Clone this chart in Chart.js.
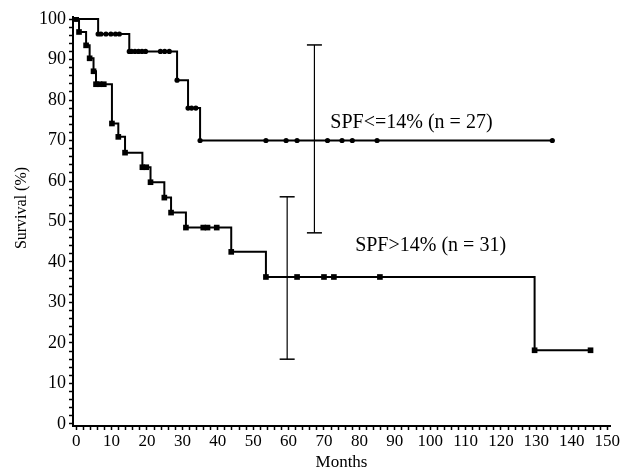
<!DOCTYPE html>
<html>
<head>
<meta charset="utf-8">
<script src="https://cdn.jsdelivr.net/npm/chart.js@4.4.0/dist/chart.umd.min.js"></script>
<style>
  html, body { margin: 0; padding: 0; background: #fff; }
  #wrap { width: 623px; height: 473px; }
</style>
</head>
<body>
<div id="wrap"><canvas id="myChart"></canvas></div>
<script>
// Kaplan-Meier curves (months, survival %)
const lowMonths = [0, 0.8, 2.8, 3.8, 4.9, 5.6, 6.6, 7.8, 10.1, 11.9, 13.8, 18.7, 19.8, 21.0, 24.9, 26.8, 31.0, 35.9, 37.1, 39.7, 43.8, 53.6, 62.4, 70.0, 72.8, 85.8, 129.5, 145.3];
const lowSurv = [100, 96.8, 93.5, 90.3, 87.1, 83.9, 83.9, 83.9, 74.2, 70.9, 67.0, 63.4, 63.4, 59.7, 55.9, 52.2, 48.5, 48.5, 48.5, 48.5, 42.5, 36.3, 36.3, 36.3, 36.3, 36.3, 18.2, 18.2];

const highMonths = [0, 6.2, 7.0, 8.4, 9.8, 11.1, 12.2, 15.0, 15.6, 16.6, 17.6, 18.6, 19.6, 23.8, 25.0, 26.3, 28.5, 31.6, 32.6, 33.8, 35.0, 53.6, 59.3, 62.4, 71.0, 75.1, 78.0, 85.0, 134.5];
const highSurv = [100, 96.3, 96.3, 96.3, 96.3, 96.3, 96.3, 92.0, 92.0, 92.0, 92.0, 92.0, 92.0, 92.0, 92.0, 92.0, 84.9, 78.0, 78.0, 78.0, 70.0, 70.0, 70.0, 70.0, 70.0, 70.0, 70.0, 70.0, 70.0];

// confidence bars: [month, low, high]
const barHigh = [67.3, 47.2, 93.6];
const barLow = [59.6, 16.0, 56.1];

const labelHigh = 'SPF<=14% (n = 27)';
const labelLow = 'SPF>14% (n = 31)';

const xTickLabels = [0, 10, 20, 30, 40, 50, 60, 70, 80, 90, 100, 110, 120, 130, 140, 150];
const yTickLabels = [0, 10, 20, 30, 40, 50, 60, 70, 80, 90, 100];

function pts(xs, ys) {
    return xs.map(function (x, i) { return {x: x, y: ys[i]}; });
}

const font = 'Liberation Serif';

// curve labels and the y axis title
const textPlugin = {
    id: 'curveText',
    afterDatasetsDraw(chart) {
        const c = chart.ctx, xs = chart.scales.x, ys = chart.scales.y;
        c.save();
        c.fillStyle = '#000';
        c.font = '20px "' + font + '"';
        c.textBaseline = 'middle';
        c.fillText(labelHigh, xs.getPixelForValue(71.8), ys.getPixelForValue(74.3));
        c.fillText(labelLow, xs.getPixelForValue(78.8), ys.getPixelForValue(44.0));

        c.translate(22, 208);
        c.rotate(-Math.PI / 2);
        c.textAlign = 'center';
        c.font = '16px "' + font + '"';
        c.fillText('Survival (%)', 0, 0);
        c.restore();
    }
};

const ctx = document.getElementById('myChart');
new Chart(ctx, {
    type: 'scatter',
    data: {
        datasets: [
            {
                data: pts(highMonths, highSurv),
                showLine: true,
                stepped: 'before',
                borderColor: '#000',
                borderWidth: 2,
                pointStyle: 'circle',
                pointRadius: 2.6,
                pointBackgroundColor: '#000',
                pointBorderColor: '#000',
                pointBorderWidth: 0
            },
            {
                data: pts(lowMonths, lowSurv),
                showLine: true,
                stepped: 'before',
                borderColor: '#000',
                borderWidth: 2,
                pointStyle: 'rect',
                pointRadius: 4,
                pointBackgroundColor: '#000',
                pointBorderColor: '#000',
                pointBorderWidth: 0
            },
            {
                data: [{x: barHigh[0], y: barHigh[1]}, {x: barHigh[0], y: barHigh[2]}],
                showLine: true,
                borderColor: '#000',
                borderWidth: 1.2,
                pointStyle: 'line',
                pointRadius: 7.5,
                pointBorderColor: '#000',
                pointBorderWidth: 1.5
            },
            {
                data: [{x: barLow[0], y: barLow[1]}, {x: barLow[0], y: barLow[2]}],
                showLine: true,
                borderColor: '#000',
                borderWidth: 1.2,
                pointStyle: 'line',
                pointRadius: 7.5,
                pointBorderColor: '#000',
                pointBorderWidth: 1.5
            }
        ]
    },
    options: {
        responsive: true,
        maintainAspectRatio: false,
        animation: false,
        layout: {padding: {top: 17, right: 13, left: 0, bottom: 0}},
        plugins: {legend: {display: false}, tooltip: {enabled: false}},
        scales: {
            x: {
                type: 'linear',
                min: -0.9,
                max: 150.8,
                border: {color: '#000', width: 2},
                grid: {drawOnChartArea: false, color: '#000', tickLength: 4, tickWidth: 1.5},
                afterBuildTicks: function (s) {
                    let t = [];
                    for (let v = 0; v <= 150; v += 2) t.push({value: v});
                    s.ticks = t;
                },
                afterFit: function (s) { s.height = 47; },
                ticks: {
                    autoSkip: false,
                    maxRotation: 0,
                    padding: 1,
                    color: '#000',
                    font: {family: font, size: 17},
                    callback: function (v) { return xTickLabels.includes(v) ? String(v) : ''; }
                },
                title: {display: true, text: 'Months', color: '#000', font: {family: font, size: 17}, padding: {top: 0, bottom: 0}}
            },
            y: {
                min: -0.5,
                max: 100.5,
                border: {color: '#000', width: 2},
                grid: {drawOnChartArea: false, color: '#000', tickLength: 4, tickWidth: 1.5},
                afterBuildTicks: function (s) {
                    let t = [];
                    for (let v = 0; v <= 100; v += 2) t.push({value: v});
                    s.ticks = t;
                },
                afterFit: function (s) { s.width = 73; },
                ticks: {
                    autoSkip: false,
                    padding: 3,
                    color: '#000',
                    font: {family: font, size: 18},
                    callback: function (v) { return yTickLabels.includes(v) ? String(v) : ''; }
                }
            }
        }
    },
    plugins: [textPlugin]
});
</script>
</body>
</html>
